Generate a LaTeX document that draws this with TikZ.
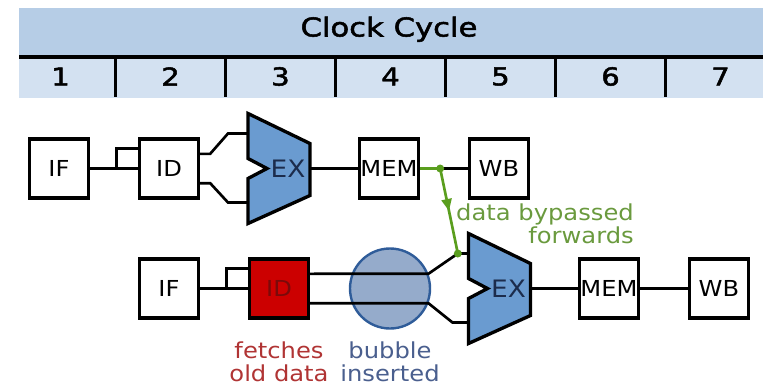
\documentclass[tikz,border=0pt]{standalone}
\usepackage{fontspec}
\setmainfont[FakeStretch=1.1]{DejaVu Sans}
\newfontfamily\hdfont[FakeStretch=1.18,FakeBold=2]{DejaVu Sans}
\usetikzlibrary{positioning,calc,arrows.meta,decorations.markings}
\definecolor{hdr}{HTML}{B6CDE6}
\definecolor{hdrb}{HTML}{D3E1F1}
\definecolor{exblue}{HTML}{6A9BD0}
\definecolor{extxt}{HTML}{1C2C4C}
\definecolor{idred}{HTML}{CC0000}
\definecolor{idtxt}{HTML}{7A0A0A}
\definecolor{bubfill}{HTML}{95ABCB}
\definecolor{bubline}{HTML}{2F5C99}
\definecolor{fwline}{HTML}{5A9E1E}
\definecolor{fwtxt}{HTML}{6A9A3E}
\definecolor{redtxt}{HTML}{B03434}
\definecolor{bluetxt}{HTML}{4A5F8E}
\begin{document}
\begin{tikzpicture}[x=0.75pt,y=-0.75pt]
            \def\w{44.25pt}
            \def\lw{2.5pt}
            \tikzset{s/.style={draw,line width=\lw,minimum size=\w,inner sep=0pt,fill=white,font=\fontsize{16.5}{18}\selectfont},
                c/.style={line width=2pt},
                num/.style={minimum width=82.5pt,minimum height=30.75pt,inner sep=0pt,font=\hdfont\fontsize{18.5}{19}\selectfont},
                lbl/.style={align=center,inner sep=0pt,font=\fontsize{16.5}{17}\selectfont},
                dot/.style={circle,fill=fwline,inner sep=0pt,minimum size=6pt},
                pics/alu/.style={code={
                    \draw[line width=\lw,fill=exblue,line join=miter](-31,-55)--(31,-25)--(31,27)--(-31,55)--(-31,10)--(-12,0)--(-31,-10)--cycle;
                    \node[text=extxt,font=\fontsize{18}{20}\selectfont](-t) at (9,0){EX};
                    \coordinate(-in1) at (-31,-35);
                    \coordinate(-in2) at (-31,34);
                    \coordinate(-out) at (31,0);}}}
            \useasboundingbox(0,0) rectangle (763,385);
            %% Clock cycle header
            \fill[hdr](19,8) rectangle (763,57);
            \fill[hdrb](19,57) rectangle (763,98);
            \node[font=\hdfont\fontsize{19.5}{21}\selectfont,anchor=base](hd) at (389,36.5){Clock Cycle};
            \foreach \i in {1,...,7}
            \node[num](n\i) at ({60.5+110*(\i-1)},76.5){\i};
            \foreach \i in {1,...,6}
            \draw[line width=2pt](n\i.north east)--(n\i.south east);
            \draw[line width=2.4pt](19,57)--(763,57);
            %% first instruction
            \path(59,168.5)node[s](IF1){IF}++(110,0)node[s](ID1){ID}++(220,0)node[s](MEM1){MEM}++(110,0)node[s](WB1){WB};
            \pic(ex1) at (279,168.5){alu};
            %% second instruction
            \node[circle,draw=bubline,fill=bubfill,line width=1.8pt,minimum size=60pt,inner sep=0pt](bub) at (390,288.5){};
            \path(169,288.5)node[s](IF2){IF}++(110,0)node[s,fill=idred,text=idtxt](ID2){ID}++(330,0)node[s](MEM2){MEM}++(110,0)node[s](WB2){WB};
            \pic(ex2) at (499.5,288.5){alu};
            \coordinate(fw1) at ($(MEM1.east)+(20,0)$);
            \coordinate(fw2) at ([xshift=-8pt]ex2-in1);
            \foreach \x/\y in {
                IF1/ID1,ex1-out/MEM1,MEM1/WB1,
                IF2/ID2,ex2-out/MEM2,MEM2/WB2}
            \draw[c](\x)--(\y);
            \foreach \n in {ID1,ID2}
            \draw[c]([xshift=-16pt]\n.west)|-([yshift=15pt]\n.west);
            \draw[c]([yshift=11pt]ID1.east)--++(10,0)--([xshift=-15pt]ex1-in1)--(ex1-in1);
            \draw[c]([yshift=-11pt]ID1.east)--++(10,0)--([xshift=-15pt]ex1-in2)--(ex1-in2);
            \draw[c]([yshift=11pt]ID2.east)--(bub.21.5)--(fw2)--(ex2-in1);
            \draw[c]([yshift=-11pt]ID2.east)--(bub.-21.5)--([xshift=-12pt]ex2-in2)--(ex2-in2);
            %% forwarding path
            \draw[c,fwline](MEM1.east)--(fw1);
            \draw[c,fwline,postaction=decorate,decoration={markings,mark=at position .5 with {\arrow{Triangle[length=9pt,width=7.5pt]}}}](fw1)--(fw2);
            \node[dot](d1) at (fw1){};
            \node[dot](d2) at (fw2){};
            %% notes
            \node[lbl,text=fwtxt,align=right,anchor=east](lfw) at (634,224){data bypassed\\forwards};
            \node[lbl,text=redtxt,below=16.5pt of ID2](lid){fetches\\old data};
            \node[lbl,text=bluetxt,anchor=north](lbub) at (bub.south |- lid.north){bubble\\inserted};
        \end{tikzpicture}
\end{document}
